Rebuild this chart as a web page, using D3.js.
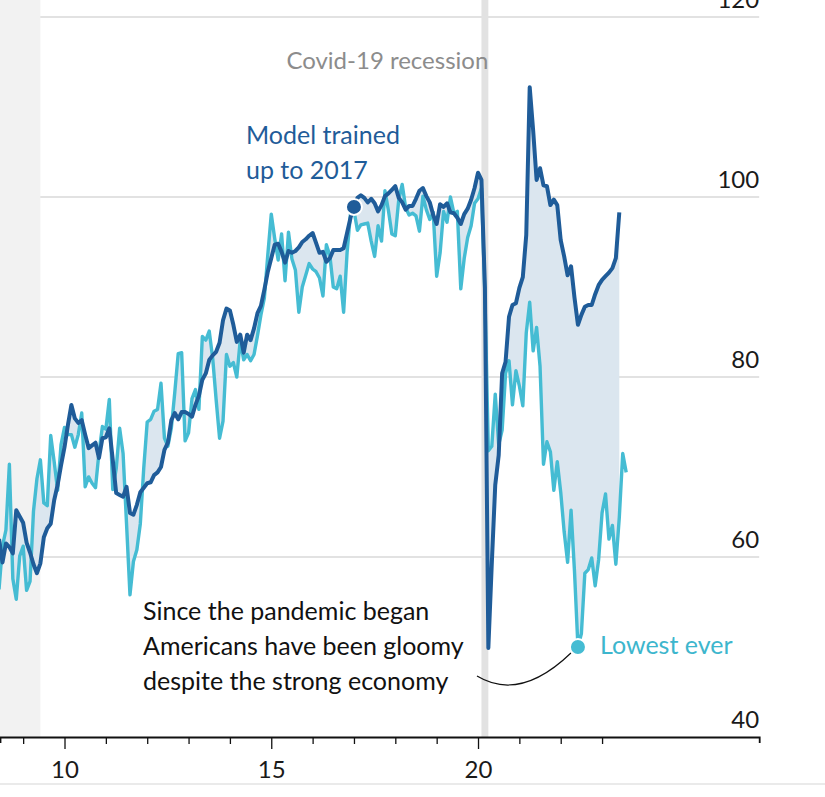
<!DOCTYPE html>
<html><head><meta charset="utf-8">
<script src="https://cdn.jsdelivr.net/npm/d3@7"></script>
<style>
body{margin:0;background:#fff}
svg{display:block}
text{font-family:Lato,"Open Sans",sans-serif}
</style>
</head><body>
<svg id="chart" width="825" height="797"></svg>
<script>
// ---- data (monthly, starting June 2008) ----
const startYear = 2008, startMonth = 6;
const sentiment = [
  56.4, 61.2, 63.0, 70.3, 57.6, 55.3, 60.1,
  61.2, 56.3, 57.3, 65.1, 68.7, 70.8, 66.0, 65.7, 73.5, 70.6, 67.4, 72.5,
  74.4, 73.6, 73.6, 72.2, 73.6, 76.0, 67.8, 68.9, 68.2, 67.7, 71.6, 74.5,
  74.2, 77.5, 67.5, 69.8, 74.3, 71.5, 63.7, 55.8, 59.5, 60.8, 63.7, 69.9,
  75.0, 75.3, 76.2, 76.4, 79.3, 73.2, 72.3, 74.3, 78.3, 82.6, 82.7, 72.9,
  73.8, 77.6, 78.6, 76.4, 84.5, 84.1, 85.1, 82.1, 77.5, 73.2, 75.1, 82.5,
  81.2, 81.6, 80.0, 84.1, 81.9, 82.5, 81.8, 82.5, 84.6, 86.9, 88.8, 93.6,
  98.1, 95.4, 93.0, 95.9, 90.7, 96.1, 93.1, 91.9, 87.2, 90.0, 91.3, 92.6,
  92.0, 91.7, 91.0, 89.0, 94.7, 93.5, 90.0, 89.8, 91.2, 87.2, 93.8, 98.2,
  98.5, 96.3, 96.9, 97.0, 97.1, 95.1, 93.4, 96.8, 95.1, 100.7, 98.5, 95.9,
  95.7, 99.7, 101.4, 98.8, 98.0, 98.2, 97.9, 96.2, 100.1, 98.6, 97.5, 98.3,
  91.2, 93.8, 98.4, 97.2, 100.0, 98.2, 98.4, 89.8, 93.2, 95.5, 96.8, 99.3,
  99.8, 101.0, 89.1, 71.8, 72.3, 78.1, 72.5, 74.1, 80.4, 81.8, 76.9, 80.7,
  79.0, 76.8, 84.9, 88.3, 82.9, 85.5, 81.2, 70.3, 72.8, 71.7, 67.4, 70.6,
  67.2, 62.8, 59.4, 65.2, 58.4, 50.0, 51.5, 58.2, 58.6, 59.9, 56.8, 59.7,
  64.9, 67.0, 62.0, 63.5, 59.2, 64.4, 71.5, 69.4
];
const model = [
  62.0, 59.4, 61.5, 61.1, 60.4, 65.2, 64.5,
  63.8, 61.6, 60.5, 59.2, 58.2, 59.3, 62.2, 63.2, 63.7, 66.3, 68.0, 70.2,
  72.2, 74.7, 76.9, 75.4, 74.9, 75.2, 73.6, 72.1, 72.4, 72.7, 71.0, 73.2,
  73.3, 74.3, 70.8, 67.1, 66.9, 66.7, 67.8, 64.9, 64.7, 65.8, 67.2, 67.7,
  68.2, 68.3, 69.1, 69.4, 70.0, 71.9, 72.7, 75.2, 76.0, 75.3, 76.1, 76.1,
  75.9, 75.6, 76.9, 77.9, 79.7, 80.4, 81.9, 82.4, 82.8, 83.8, 86.3, 87.6,
  87.4, 85.8, 83.9, 84.7, 82.7, 84.7, 84.1, 85.4, 87.1, 87.9, 89.7, 91.7,
  93.2, 94.7, 94.8, 93.9, 92.7, 94.0, 93.8, 94.0, 94.4, 95.0, 95.3, 95.7,
  96.0, 94.9, 93.8, 93.9, 92.8, 93.2, 94.1, 94.1, 94.1, 94.3, 96.0, 97.7,
  98.9, 99.9, 100.2, 99.9, 99.4, 99.8, 99.3, 98.4, 99.1, 100.1, 100.4, 100.8,
  101.2, 99.9, 99.4, 98.6, 99.0, 99.0, 99.8, 100.7, 101.0, 100.1, 99.4, 98.0,
  97.0, 99.2, 98.9, 99.3, 98.3, 98.2, 97.7, 97.0, 98.1, 98.7, 99.7, 101.0,
  102.7, 101.9, 90.0, 49.9, 59.3, 68.0, 71.3, 80.4, 81.7, 86.7, 88.0, 88.2,
  89.9, 91.1, 95.8, 112.2, 107.4, 101.9, 103.2, 101.3, 101.2, 99.1, 99.7, 99.1,
  95.2, 93.4, 91.3, 92.3, 88.8, 85.8, 86.9, 87.8, 88.0, 88.0, 89.2, 90.2,
  90.8, 91.2, 91.6, 92.1, 93.2, 98.3
];
const recessions = [[2007.917, 2009.417], [2020.083, 2020.25]];
const yTicks = [40, 60, 80, 100, 120];
const xTickYears = [2009, 2010, 2011, 2012, 2013, 2014, 2015, 2016, 2017, 2018, 2019, 2020, 2021, 2022, 2023];
const xLabelYears = [2010, 2015, 2020];
const trainedPoint = {year: 2017, month: 1};
const lowestPoint = {year: 2022, month: 6};

// ---- colours ----
const DARK = "#1f5c99", LIGHT = "#45bcd3", FILL = "#dbe6ef";

const tOf = i => startYear + (startMonth - 1 + i) / 12;
const sData = sentiment.map((v, i) => ({t: tOf(i), v}));
const mData = model.map((v, i) => ({t: tOf(i), v}));
const both = model.map((v, i) => ({t: tOf(i), m: v, s: sentiment[i]}));

const svg = d3.select("#chart");
const x = d3.scaleLinear().domain([2008.44, 2026.8]).range([0, 759.2]);
const y = d3.scaleLinear().domain([40, 120]).range([737, 17]);
const xR = x.range()[1];

// grid
svg.append("g").selectAll("line").data(yTicks.filter(d => d > 40)).join("line")
  .attr("x1", 0).attr("x2", xR).attr("y1", d => y(d)).attr("y2", d => y(d))
  .attr("stroke", "#d9d9d9").attr("stroke-width", 1.5);

// recession bands
svg.append("g").selectAll("rect").data(recessions).join("rect")
  .attr("x", d => x(d[0])).attr("width", d => x(d[1]) - x(d[0]))
  .attr("y", 0).attr("height", y(40))
  .attr("fill", (d, i) => i === 0 ? "#f2f2f2" : "#e2e2e2");

// y labels
svg.append("g").selectAll("text").data(yTicks).join("text")
  .attr("x", xR).attr("y", d => y(d) - 9).attr("text-anchor", "end")
  .attr("font-size", 24).attr("fill", "#1a1a1a").text(d => d);

// fill between
svg.append("path").datum(both)
  .attr("fill", FILL)
  .attr("d", d3.area().x(d => x(d.t)).y0(d => y(d.s)).y1(d => y(d.m)));

// lines
svg.append("path").datum(sData).attr("fill", "none").attr("stroke", LIGHT)
  .attr("stroke-width", 3.4).attr("stroke-linejoin", "round")
  .attr("d", d3.line().x(d => x(d.t)).y(d => y(d.v)));
svg.append("path").datum(mData).attr("fill", "none").attr("stroke", DARK)
  .attr("stroke-width", 4).attr("stroke-linejoin", "round")
  .attr("d", d3.line().x(d => x(d.t)).y(d => y(d.v)));

// x axis
const xAxis = d3.axisBottom(x).tickValues(xTickYears).tickSizeOuter(0).tickSize(6)
  .tickFormat(d => xLabelYears.includes(d) ? String(d).slice(2) : "");
const gx = svg.append("g").attr("transform", `translate(0,${y(40)})`).call(xAxis);
gx.select(".domain").attr("stroke", "#111").attr("stroke-width", 1.8);
gx.selectAll(".tick line").attr("stroke", "#111").attr("stroke-width", 1.3)
  .attr("y2", d => xLabelYears.includes(d) ? 12 : 7);
gx.selectAll(".tick text").attr("font-size", 24).attr("fill", "#1a1a1a")
  .attr("y", 24).style("font-family", "Lato, 'Open Sans', sans-serif");

// bottom rule
svg.append("line").attr("x1", 0).attr("x2", 825).attr("y1", 784).attr("y2", 784)
  .attr("stroke", "#e3e3e3").attr("stroke-width", 1.5);

// annotations
svg.append("text").attr("x", x(recessions[1][1])).attr("y", 69).attr("text-anchor", "end")
  .attr("font-size", 24).attr("fill", "#8c8c8c").text("Covid-19 recession");

const tIdx = (trainedPoint.year - startYear) * 12 + trainedPoint.month - startMonth;
const lIdx = (lowestPoint.year - startYear) * 12 + lowestPoint.month - startMonth;
const tp = mData[tIdx], lp = sData[lIdx];

const mt = svg.append("text").attr("font-size", 25).attr("fill", "#1f5c99");
mt.append("tspan").attr("x", 246).attr("y", 144).text("Model trained");
mt.append("tspan").attr("x", 246).attr("y", 179).text("up to 2017");

svg.append("circle").attr("cx", x(tp.t)).attr("cy", y(tp.v)).attr("r", 8)
  .attr("fill", DARK).attr("stroke", "#fff").attr("stroke-width", 2);

// connector to lowest point
svg.append("path").attr("fill", "none").attr("stroke", "#111").attr("stroke-width", 1.2)
  .attr("d", `M477,676 Q520,702 ${x(lp.t) - 7},${y(lp.v) + 6}`);

svg.append("circle").attr("cx", x(lp.t)).attr("cy", y(lp.v)).attr("r", 8)
  .attr("fill", LIGHT).attr("stroke", "#fff").attr("stroke-width", 2);
svg.append("text").attr("x", 600).attr("y", 654).attr("font-size", 25)
  .attr("fill", "#3db6cd").text("Lowest ever");

const st = svg.append("text").attr("font-size", 25).attr("fill", "#111");
["Since the pandemic began", "Americans have been gloomy", "despite the strong economy"]
  .forEach((s, i) => st.append("tspan").attr("x", 143).attr("y", 620 + 35 * i).text(s));
</script>
</body></html>
